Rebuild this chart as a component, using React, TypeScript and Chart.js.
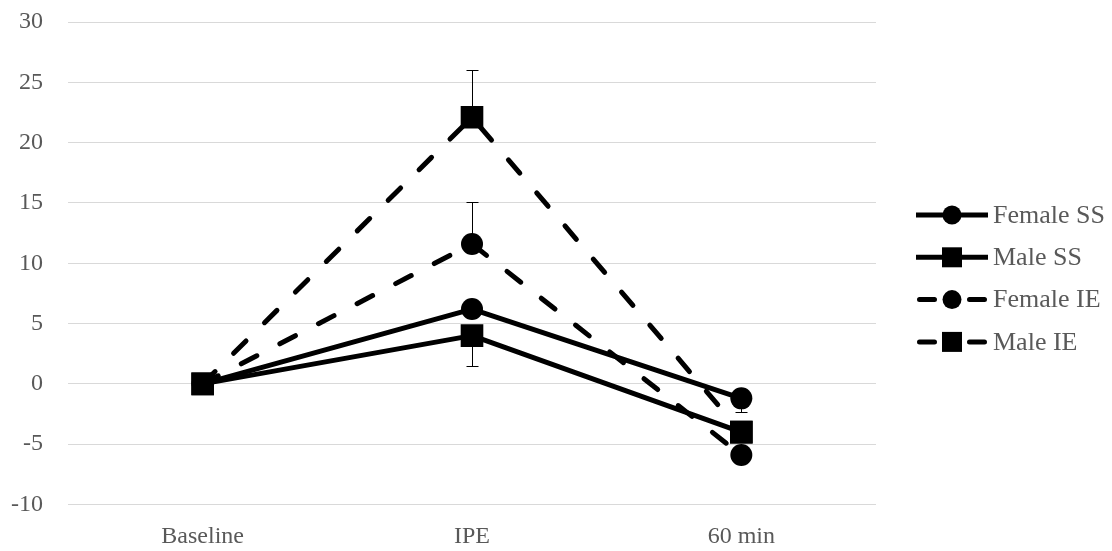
import React, { useEffect, useRef } from 'react';
import { Chart, registerables } from 'chart.js';

Chart.register(...registerables);

const categories = ['Baseline', 'IPE', '60 min'];
const seriesNames = ['Female SS', 'Male SS', 'Female IE', 'Male IE'];
const femaleSS = [0, 6.2, -1.2];
const maleSS = [0, 4.0, -4.0];
const femaleIE = [0, 11.6, -5.9];
const maleIE = [0, 22.1, -4.0];
const femaleSSErrDown = [0, 0, 1.1];
const maleSSErrDown = [0, 2.5, 0];
const femaleIEErrUp = [0, 3.5, 0];
const maleIEErrUp = [0, 3.9, 0];
const yMin = -10;
const yMax = 30;
const yStep = 5;

const FONT = "'Liberation Serif', 'Times New Roman', serif";
const TEXT = '#595959';
const DASH = [17.5, 26];

const errorBarPlugin = {
  id: 'errorBars',
  beforeDatasetsDraw(chart: any) {
    const { ctx, scales } = chart;
    const x = scales.x;
    const y = scales.y;
    const defs = [
      { data: femaleSS, err: femaleSSErrDown, dir: -1 },
      { data: maleSS, err: maleSSErrDown, dir: -1 },
      { data: femaleIE, err: femaleIEErrUp, dir: 1 },
      { data: maleIE, err: maleIEErrUp, dir: 1 },
    ];
    ctx.save();
    ctx.strokeStyle = '#000';
    ctx.lineWidth = 1;
    defs.forEach((d) => {
      d.data.forEach((v, i) => {
        const e = d.err[i];
        if (!e) return;
        const px = Math.round(x.getPixelForValue(i)) + 0.5;
        const y0 = y.getPixelForValue(v);
        const y1 = Math.round(y.getPixelForValue(v + d.dir * e)) + 0.5;
        ctx.beginPath();
        ctx.moveTo(px, y0);
        ctx.lineTo(px, y1);
        ctx.moveTo(px - 6, y1);
        ctx.lineTo(px + 6, y1);
        ctx.stroke();
      });
    });
    ctx.restore();
  },
};

const legendPlugin = {
  id: 'customLegend',
  afterDraw(chart: any) {
    const { ctx, chartArea } = chart;
    const x0 = chartArea.right + 40;
    const x1 = x0 + 72;
    const cx = (x0 + x1) / 2;
    ctx.save();
    seriesNames.forEach((name, i) => {
      const cy = chartArea.top + 193 + i * 42.3;
      const dashed = i >= 2;
      const square = i % 2 === 1;
      ctx.strokeStyle = '#000';
      ctx.lineWidth = 5;
      ctx.lineCap = dashed ? 'round' : 'butt';
      ctx.beginPath();
      if (dashed) {
        ctx.moveTo(x0 + 3.5, cy);
        ctx.lineTo(x0 + 18.5, cy);
        ctx.moveTo(x1 - 18.5, cy);
        ctx.lineTo(x1 - 3.5, cy);
      } else {
        ctx.moveTo(x0, cy);
        ctx.lineTo(x1, cy);
      }
      ctx.stroke();
      ctx.fillStyle = '#000';
      ctx.beginPath();
      if (square) {
        ctx.rect(cx - 10, cy - 10, 20, 20);
      } else {
        ctx.arc(cx, cy, 9.5, 0, Math.PI * 2);
      }
      ctx.fill();
      ctx.fillStyle = TEXT;
      ctx.font = `26px ${FONT}`;
      ctx.textBaseline = 'middle';
      ctx.textAlign = 'left';
      ctx.fillText(name, x1 + 5, cy + 1);
    });
    ctx.restore();
  },
};

function makeDataset(label: string, data: number[], square: boolean, dashed: boolean, order: number) {
  return {
    label,
    data,
    borderColor: '#000',
    backgroundColor: '#000',
    borderWidth: 5,
    borderDash: dashed ? DASH : [],
    borderCapStyle: dashed ? 'round' : 'butt',
    borderJoinStyle: 'round',
    pointStyle: square ? 'rect' : 'circle',
    pointRadius: square ? 16 : 11,
    pointBackgroundColor: '#000',
    pointBorderColor: '#000',
    pointBorderWidth: 0,
    tension: 0,
    order,
  };
}

export default function App() {
  const ref = useRef<HTMLCanvasElement>(null);
  useEffect(() => {
    if (!ref.current) return;
    const chart = new Chart(ref.current, {
      type: 'line',
      data: {
        labels: categories,
        datasets: [
          makeDataset(seriesNames[0], femaleSS, false, false, 4),
          makeDataset(seriesNames[1], maleSS, true, false, 3),
          makeDataset(seriesNames[2], femaleIE, false, true, 2),
          makeDataset(seriesNames[3], maleIE, true, true, 1),
        ] as any,
      },
      options: {
        animation: false,
        responsive: true,
        maintainAspectRatio: false,
        layout: { padding: { top: 22, right: 236, left: 0, bottom: 0 } },
        plugins: { legend: { display: false }, tooltip: { enabled: false } },
        scales: {
          x: {
            offset: true,
            grid: { display: false, drawTicks: false },
            border: { display: false },
            ticks: { color: TEXT, font: { family: FONT, size: 24 }, padding: 18 },
            afterFit(scale: any) {
              scale.height = 46.5;
              scale.paddingLeft = 0;
              scale.paddingRight = 0;
            },
          },
          y: {
            min: yMin,
            max: yMax,
            ticks: { stepSize: yStep, color: TEXT, font: { family: FONT, size: 24 }, padding: 25 },
            grid: { color: '#d9d9d9', lineWidth: 1, drawTicks: false },
            border: { display: false },
            afterFit(scale: any) {
              scale.width = 68;
              scale.paddingTop = 0;
              scale.paddingBottom = 0;
            },
          },
        },
      } as any,
      plugins: [errorBarPlugin, legendPlugin],
    });
    return () => chart.destroy();
  }, []);
  return (
    <div style={{ position: 'fixed', left: 0, top: 0, width: 1112, height: 551, background: '#fff' }}>
      <canvas ref={ref} />
    </div>
  );
}
